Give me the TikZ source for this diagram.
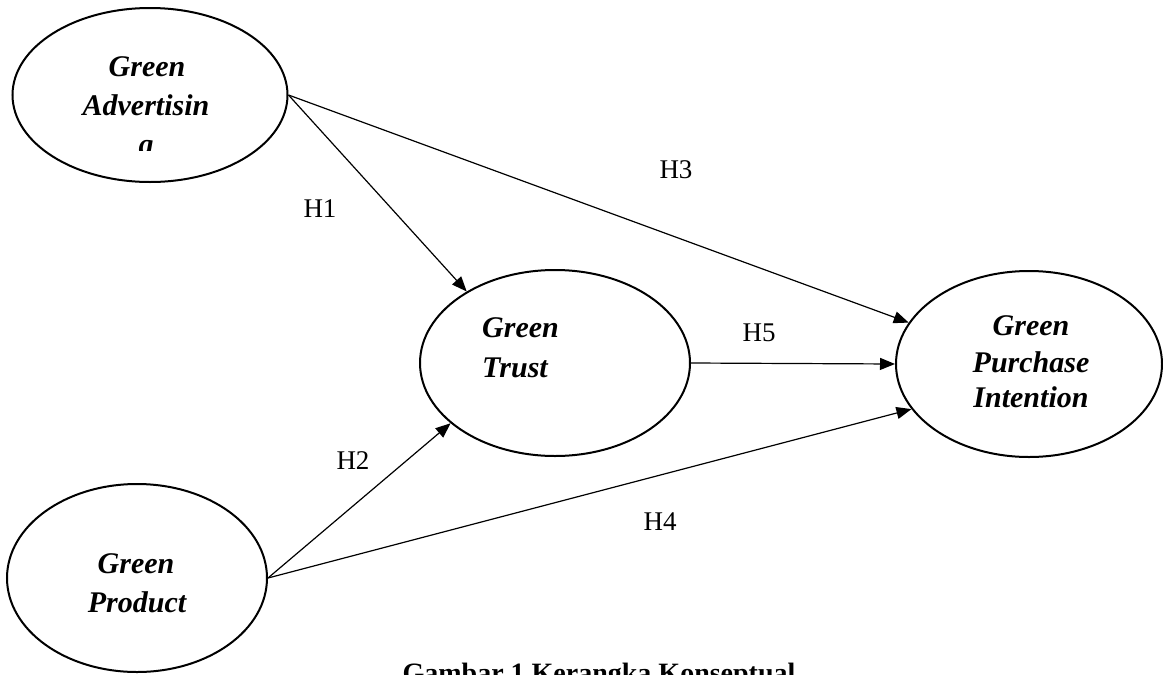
\documentclass[tikz,border=0pt]{standalone}
\usepackage{fontspec}
\setmainfont{Liberation Serif}
\usetikzlibrary{arrows.meta,shapes.geometric}
\begin{document}
\begin{tikzpicture}[x=1pt,y=-1pt,
  var/.style={draw, ellipse, line width=2pt, inner sep=0pt},
  lbl/.style={font=\fontsize{30}{36}\selectfont\bfseries\itshape, inner sep=0pt, anchor=base},
  hyp/.style={font=\fontsize{27}{32}\selectfont, inner sep=0pt},
  arr/.style={-{Triangle[length=15pt,width=12pt]}, line width=1.2pt},
]
\useasboundingbox (0,0) rectangle (1163,675);
\clip (0,0) rectangle (1163,675);
% variables
\node[var, minimum width=275pt, minimum height=174pt] (ga) at (150,95) {};
\node[var, minimum width=260pt, minimum height=188pt] (gp) at (137,578) {};
\node[var, minimum width=270pt, minimum height=186pt] (gt) at (555,363) {};
\node[var, minimum width=266pt, minimum height=186pt] (gpi) at (1029,364) {};
% labels
\node[lbl] (ga1) at (147,76) {Green};
\node[lbl] (ga2) at (146,115) {Advertisin};
\begin{scope}
  \clip (0,0) rectangle (300,150);
  \node[lbl] (ga3) at (146,154) {g};
\end{scope}
\node[lbl, anchor=base west] (gt1) at (482,337) {Green};
\node[lbl, anchor=base west] (gt2) at (482,377) {Trust};
\node[lbl] (gpi1) at (1031,335) {Green};
\node[lbl] (gpi2) at (1031,372) {Purchase};
\node[lbl] (gpi3) at (1031,407) {Intention};
\node[lbl] (gp1) at (136,573) {Green};
\node[lbl] (gp2) at (137,612) {Product};
% arrows
\draw[arr] (ga.east) -- (gt.141);
\draw[arr] (ga.east) -- (gpi.161);
\draw[arr] (gt.east) -- (gpi.west);
\draw[arr] (gp.east) -- (gt.210);
\draw[arr] (gp.east) -- (gpi.201);
% hypothesis labels
\node[hyp] (h1) at (320,209) {H1};
\node[hyp] (h2) at (353,461) {H2};
\node[hyp] (h3) at (676,170) {H3};
\node[hyp] (h4) at (660,522) {H4};
\node[hyp] (h5) at (759,333) {H5};
% caption
\node[font=\fontsize{28}{34}\selectfont\bfseries, anchor=base, inner sep=0pt] (cap) at (599,682) {Gambar 1 Kerangka Konseptual};
\end{tikzpicture}
\end{document}
